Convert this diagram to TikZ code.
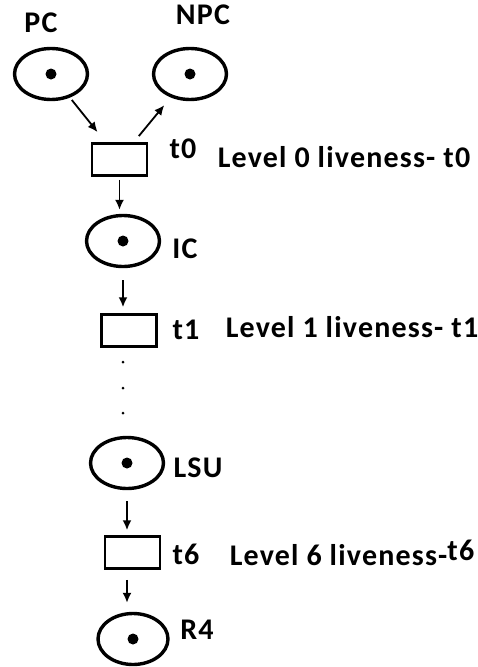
\documentclass[tikz,border=0pt]{standalone}
\usepackage{fontspec}
\setmainfont{Carlito}[LetterSpace=4]
\usetikzlibrary{shapes.geometric,arrows.meta}

\begin{document}
\begin{tikzpicture}[x=1pt,y=-1pt]
    % Styles
    \tikzstyle{fleche}=[->,>={Latex[length=10pt,width=9pt]},line width=1.8pt]
    \tikzstyle{place}=[draw,ellipse,line width=3.4pt,minimum width=73pt,minimum height=51pt,inner sep=0pt]
    \tikzstyle{transition}=[draw,rectangle,line width=2.5pt,minimum width=55pt,minimum height=32pt,inner sep=0pt]
    \tikzstyle{jeton}=[fill,circle,inner sep=0pt,minimum size=11pt]
    \tikzstyle{point}=[fill,circle,inner sep=0pt,minimum size=3pt]
    \tikzstyle{etiquette}=[inner sep=0pt,font=\fontsize{30}{32}\selectfont\bfseries]
    \useasboundingbox (0,0) rectangle (478,667);
    % Places
    \node[place] (PC) at (51,74) {};
    \node[place] (NPC) at (190,74) {};
    \node[place] (IC) at (123,241) {};
    \node[place] (LSU) at (127,463) {};
    \node[place,minimum width=70pt] (R4) at (133,639) {};
    \foreach \p in {PC,NPC,IC,LSU,R4} \node[jeton] (\p-j) at (\p) {};
    % Transitions
    \node[transition] (t0) at (119.5,159.5) {};
    \node[transition] (t1) at (129,330.5) {};
    \node[transition] (t6) at (132.5,552.5) {};
    % Points de suspension
    \node[point] (d1) at (123,362) {};
    \node[point] (d2) at (123,388) {};
    \node[point] (d3) at (123,413) {};
    % Etiquettes
    \node[etiquette] (lPC) at (41,23) {PC};
    \node[etiquette] (lNPC) at (203,15) {NPC};
    \node[etiquette] (lt0) at (183,149) {t0};
    \node[etiquette] (niv0) at (344,157) {Level 0 liveness- t0};
    \node[etiquette] (lIC) at (185,249) {IC};
    \node[etiquette] (lt1) at (186,330) {t1};
    \node[etiquette] (niv1) at (352,327) {Level 1 liveness- t1};
    \node[etiquette] (lLSU) at (198,468) {LSU};
    \node[etiquette] (lt6) at (186,554) {t6};
    \node[etiquette] (niv6) at (352,553) {Level 6 liveness-\raisebox{5pt}{t6}};
    \node[etiquette] (lR4) at (197,630) {R4};
    % Arcs
    \draw[fleche,shorten <=3pt,shorten >=13pt] (PC) -- (t0);
    \draw[fleche,shorten <=8pt,shorten >=10pt] (t0) -- (NPC);
    \draw[fleche,shorten <=3pt,shorten >=4pt] (t0.south) -- (t0.south |- IC.north);
    \draw[fleche,shorten <=12pt,shorten >=6pt] (IC.south) -- (IC.south |- t1.north);
    \draw[fleche,shorten <=11pt,shorten >=5pt] (LSU.south) -- (LSU.south |- t6.north);
    \draw[fleche,shorten <=10pt,shorten >=9pt] (t6.south -| LSU.south) -- (LSU.south |- R4.north);
\end{tikzpicture}
\end{document}
